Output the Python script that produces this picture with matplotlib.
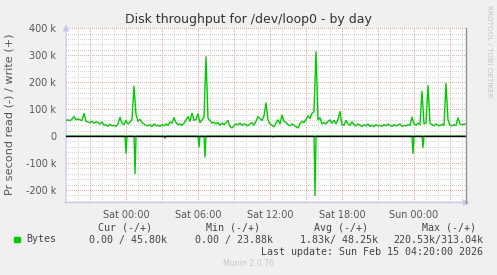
import numpy as np
import matplotlib
matplotlib.use("Agg")
import matplotlib.pyplot as plt
from matplotlib.ticker import FixedLocator

# ---- data (hours relative to Sat 00:00, values in bytes/s) ----
t_start = -5.0          # Fri 19:00
t_end = 28.0 + 1.0 / 3  # Sun 04:20
step_h = 1.0 / 6        # 10 minute samples

write_k = [
    58, 60, 57, 63, 72, 60, 64, 60, 58, 84,
    55, 52, 50, 55, 48, 53, 50, 45, 52, 40,
    42, 36, 44, 38, 40, 36, 45, 70, 48, 42,
    58, 45, 52, 62, 185, 80, 55, 62, 50, 45,
    40, 38, 42, 35, 45, 38, 40, 36, 42, 38,
    45, 40, 52, 48, 68, 50, 42, 45, 40, 48,
    60, 72, 55, 85, 58, 62, 82, 50, 60, 70,
    294, 65, 58, 48, 52, 45, 50, 40, 48, 42,
    50, 58, 35, 30, 38, 45, 42, 48, 40, 45,
    42, 38, 45, 50, 40, 55, 72, 65, 58, 75,
    123, 60, 45, 40, 35, 48, 60, 45, 78, 55,
    50, 42, 38, 45, 40, 35, 30, 45, 55, 50,
    62, 75, 65, 85, 90, 313, 60, 68, 45, 50,
    45, 55, 60, 48, 58, 45, 62, 91, 42, 40,
    58, 45, 40, 53, 42, 38, 45, 40, 35, 42,
    38, 45, 36, 40, 35, 42, 38, 40, 36, 42,
    38, 45, 40, 36, 42, 38, 40, 45, 36, 40,
    38, 42, 40, 70, 45, 40, 48, 42, 166, 45,
    50, 187, 48, 42, 38, 45, 40, 38, 44, 40,
    195, 60, 40, 38, 42, 40, 68, 45, 42, 44,
    46,
]

# read (drawn negative) spikes: time in hours, value in k
read_t = [-5.0,
          -1/12, 0.0, 1/12,
          0.75 - 1/12, 0.75, 0.75 + 1/12,
          3.25 - 1/12, 3.25, 3.25 + 1/12,
          6.083 - 1/12, 6.083, 6.083 + 1/12,
          6.583 - 1/12, 6.583, 6.583 + 1/12,
          12.25 - 1/12, 12.25, 12.25 + 1/12,
          15.75 - 1/12, 15.75, 15.75 + 1/12,
          23.917 - 1/12, 23.917, 23.917 + 1/12,
          24.75 - 1/12, 24.75, 24.75 + 1/12,
          28.0 + 1/3]
read_k = [0,
          0, 64, 0,
          0, 139, 0,
          0, 8, 0,
          0, 41, 0,
          0, 77, 0,
          0, 4, 0,
          0, 220.5, 0,
          0, 64, 0,
          0, 42, 0,
          0]

xtick_pos = [0, 6, 12, 18, 24]
xtick_labels = ["Sat 00:00", "Sat 06:00", "Sat 12:00", "Sat 18:00", "Sun 00:00"]
ytick_pos = [-200e3, -100e3, 0, 100e3, 200e3, 300e3, 400e3]
ytick_labels = ["-200 k", "-100 k", "0", "100 k", "200 k", "300 k", "400 k"]

legend_heads = ["Cur (-/+)", "Min (-/+)", "Avg (-/+)", "Max (-/+)"]
legend_vals = ["0.00 / 45.80k", "0.00 / 23.88k", "1.83k/ 48.25k", "220.53k/313.04k"]

# ---- figure ----
W, H = 497, 275
fig = plt.figure(figsize=(W / 100, H / 100), dpi=100)
fig.patch.set_facecolor("#F0F0F0")

L, R, T, B = 66, 466, 28.3, 202.6
ax = fig.add_axes([L / W, 1 - B / H, (R - L) / W, (B - T) / H])
ax.set_facecolor("white")
ax.set_xlim(t_start, t_end)
ax.set_ylim(-247e3, 400e3)

for s in ax.spines.values():
    s.set_visible(False)

grid_minor = "#D6D6D6"
grid_major = "#EAA8A8"
dot = (0, (1, 1.6))
gkw = dict(lw=0.72, ls=dot, antialiased=False)
# minor grid
for h in np.arange(-5, 29, 1):
    ax.axvline(h, color=grid_minor, zorder=1, **gkw)
for v in np.arange(-240e3, 401e3, 20e3):
    ax.axhline(v, color=grid_minor, zorder=1, **gkw)
# major grid
for h in np.arange(-3, 29, 3):
    ax.axvline(h, color=grid_major, zorder=2, **gkw)
for v in ytick_pos:
    ax.axhline(v, color=grid_major, zorder=2, **gkw)

t = t_start + step_h * np.arange(len(write_k))
ax.plot(t, np.array(write_k) * 1e3, color="#00CC00", lw=1.0, zorder=4)
ax.plot(read_t, -np.array(read_k) * 1e3, color="#00CC00", lw=1.0, zorder=4)
ax.axhline(0, color="black", lw=1.0, zorder=5)

# ticks
ax.xaxis.set_major_locator(FixedLocator(xtick_pos))
ax.set_xticklabels(xtick_labels)
ax.yaxis.set_major_locator(FixedLocator(ytick_pos))
ax.set_yticklabels(ytick_labels)
ax.tick_params(axis="both", length=0, labelsize=6.9, colors="#555555", pad=7)
ax.tick_params(axis="x", pad=5)

# frame right
ax.plot([1, 1], [0, 1], transform=ax.transAxes, color="#909090", lw=1.0, clip_on=False, zorder=6)
# axes with arrows (light blue)
axc = "#C8C8F0"
ax.annotate("", xy=(0, 1.04), xytext=(0, -0.015), xycoords="axes fraction",
            arrowprops=dict(arrowstyle="-|>,head_length=0.4,head_width=0.18", color=axc, lw=0.8),
            annotation_clip=False)
ax.annotate("", xy=(1.017, 0), xytext=(-0.01, 0), xycoords="axes fraction",
            arrowprops=dict(arrowstyle="-|>,head_length=0.4,head_width=0.18", color=axc, lw=0.8),
            annotation_clip=False)

# texts
fig.text(248 / W, 1 - 19.3 / H, "Disk throughput for /dev/loop0 - by day",
         ha="center", va="center", fontsize=9, color="#333333")
fig.text(10 / W, 1 - 114 / H, "Pr second read (-) / write (+)", rotation=90,
         ha="center", va="center", fontsize=8.1, color="#555555")
fig.text(488.5 / W, 1 - 5 / H, "RRDTOOL / TOBI OETIKER", rotation=-90,
         ha="center", va="top", fontsize=5.2, color="#C4C4C4")

mono = dict(family="DejaVu Sans Mono", fontsize=7.2, color="#444444", va="center")
head_x = [125, 233.5, 341.5, 449.5]
for x, s in zip(head_x, legend_heads):
    fig.text(x / W, 1 - 227.7 / H, s, ha="center", **mono)
val_right = [167, 273, 378, 483]
for x, s in zip(val_right, legend_vals):
    fig.text(x / W, 1 - 239.5 / H, s, ha="right", **mono)
fig.text(26.7 / W, 1 - 239.5 / H, "Bytes", ha="left", **mono)
fig.patches.append(plt.Rectangle((14 / W, 1 - 242.3 / H), 5.5 / W, 5.5 / H,
                                 transform=fig.transFigure, color="#00CC00", figure=fig))
fig.text(483 / W, 1 - 251.7 / H, "Last update: Sun Feb 15 04:20:00 2026", ha="right", **mono)
fig.text(248 / W, 1 - 264 / H, "Munin 2.0.76", ha="center", va="center",
         fontsize=5.6, color="#C8C8C8")

fig.savefig("out.png", dpi=100, facecolor=fig.get_facecolor())
